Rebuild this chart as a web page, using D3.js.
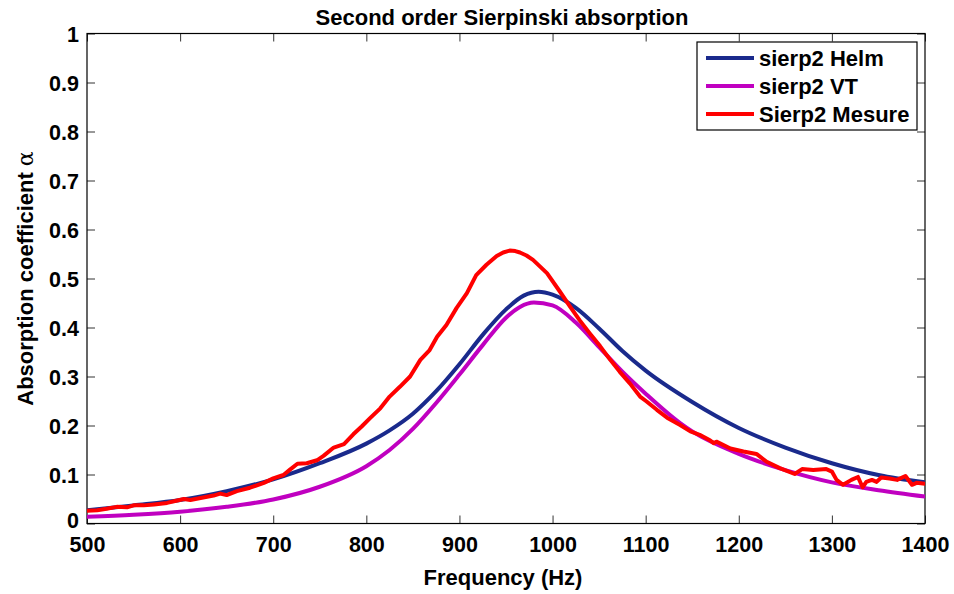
<!DOCTYPE html>
<html>
<head>
<meta charset="utf-8">
<script src="https://cdn.jsdelivr.net/npm/d3@7"></script>
<style>
  html, body { margin: 0; padding: 0; background: #fff; }
  svg { display: block; }
  text { font-family: "Liberation Sans", Arial, Helvetica, sans-serif; font-weight: bold; fill: #000; }
</style>
</head>
<body>
<svg id="chart" width="954" height="594"></svg>
<script>
// ---- Data ----
const title = "Second order Sierpinski absorption";
const xLabel = "Frequency (Hz)";
const yLabel = "Absorption coefficient ";
const xTicks = [500, 600, 700, 800, 900, 1000, 1100, 1200, 1300, 1400];
const yTicks = [0, 0.1, 0.2, 0.3, 0.4, 0.5, 0.6, 0.7, 0.8, 0.9, 1];
const seriesNames = ["sierp2 Helm", "sierp2 VT", "Sierp2 Mesure"];

const helmFreq = [500, 550, 600, 650, 700, 750, 800, 825, 850, 875, 900, 925, 950, 969, 985, 1000, 1025, 1050, 1075, 1100, 1150, 1200, 1250, 1300, 1350, 1400];
const helmVal  = [0.027, 0.037, 0.048, 0.066, 0.090, 0.123, 0.163, 0.190, 0.224, 0.270, 0.325, 0.385, 0.437, 0.465, 0.473, 0.467, 0.440, 0.398, 0.352, 0.312, 0.248, 0.195, 0.155, 0.123, 0.099, 0.084];

const vtFreq = [500, 550, 600, 650, 700, 750, 800, 825, 850, 875, 900, 925, 950, 965, 980, 1000, 1025, 1050, 1075, 1100, 1137, 1150, 1200, 1250, 1300, 1350, 1400];
const vtVal  = [0.014, 0.018, 0.024, 0.034, 0.049, 0.075, 0.117, 0.150, 0.193, 0.246, 0.304, 0.364, 0.420, 0.442, 0.451, 0.445, 0.410, 0.360, 0.310, 0.265, 0.205, 0.188, 0.142, 0.109, 0.084, 0.068, 0.055];

const mesFreq = [500, 511, 521, 532, 543, 550, 561, 572, 586, 597, 604, 611, 622, 636, 643, 650, 661, 675, 690, 700, 711, 718, 726, 736, 747, 754, 765, 776, 786, 795, 804, 815, 825, 836, 847, 858, 868, 876, 886, 897, 908, 918, 929, 940, 947, 954, 960, 965, 972, 979, 994, 1008, 1019, 1029, 1040, 1051, 1062, 1072, 1083, 1094, 1101, 1112, 1123, 1137, 1148, 1158, 1169, 1173, 1176, 1191, 1205, 1219, 1230, 1244, 1260, 1268, 1280, 1294, 1300, 1305, 1312, 1321, 1328, 1333, 1337, 1343, 1348, 1353, 1362, 1370, 1379, 1386, 1391, 1400];
const mesVal  = [0.026, 0.027, 0.030, 0.034, 0.033, 0.037, 0.037, 0.039, 0.042, 0.047, 0.050, 0.048, 0.052, 0.057, 0.061, 0.058, 0.066, 0.073, 0.083, 0.092, 0.099, 0.110, 0.122, 0.123, 0.129, 0.138, 0.155, 0.162, 0.182, 0.198, 0.215, 0.235, 0.259, 0.279, 0.300, 0.334, 0.354, 0.381, 0.405, 0.440, 0.470, 0.507, 0.528, 0.546, 0.553, 0.557, 0.556, 0.553, 0.547, 0.538, 0.511, 0.473, 0.442, 0.415, 0.388, 0.362, 0.334, 0.310, 0.286, 0.259, 0.249, 0.232, 0.216, 0.201, 0.188, 0.181, 0.170, 0.164, 0.167, 0.153, 0.147, 0.142, 0.126, 0.113, 0.101, 0.111, 0.109, 0.111, 0.106, 0.089, 0.079, 0.089, 0.095, 0.074, 0.085, 0.089, 0.085, 0.094, 0.092, 0.089, 0.097, 0.079, 0.083, 0.081];

const colors = ["#1a2a8c", "#c000c0", "#ff0000"];

// ---- Layout ----
const svg = d3.select("#chart");
const L = 87, R = 925, T = 33.5, B = 523.5;
const x = d3.scaleLinear().domain([500, 1400]).range([L, R]);
const y = d3.scaleLinear().domain([0, 1]).range([B, T]);
const fs = 21.5;

svg.append("defs").append("clipPath").attr("id", "clip")
  .append("rect").attr("x", L).attr("y", T).attr("width", R - L).attr("height", B - T);

const tl = 8;
const fmtY = d => d === 0 ? "0" : (d === 1 ? "1" : d3.format(".1f")(d));

const gB = svg.append("g").attr("transform", `translate(0,${B})`)
  .call(d3.axisBottom(x).tickValues(xTicks).tickSize(-tl).tickPadding(13).tickFormat(d3.format("d")));
const gT = svg.append("g").attr("transform", `translate(0,${T})`)
  .call(d3.axisTop(x).tickValues(xTicks).tickSize(-tl).tickFormat(""));
const gL = svg.append("g").attr("transform", `translate(${L},0)`)
  .call(d3.axisLeft(y).tickValues(yTicks).tickSize(-tl).tickPadding(8).tickFormat(fmtY));
const gR = svg.append("g").attr("transform", `translate(${R},0)`)
  .call(d3.axisRight(y).tickValues(yTicks).tickSize(-tl).tickFormat(""));

[gB, gT, gL, gR].forEach(g => {
  g.select(".domain").remove();
  g.selectAll(".tick line").attr("stroke", "#333").attr("stroke-width", 1);
  g.selectAll(".tick text").style("font-size", fs + "px").style("font-family", '"Liberation Sans", Arial, sans-serif').style("font-weight", "bold").attr("fill", "#000");
});
gB.selectAll(".tick text").attr("dy", "0.71em");
gL.selectAll(".tick text").attr("dy", "0.36em");
gL.selectAll(".tick").filter(d => d === 0).select("text").attr("dy", "0.2em");

svg.append("rect").attr("x", L).attr("y", T).attr("width", R - L).attr("height", B - T)
  .attr("fill", "none").attr("stroke", "#000").attr("stroke-width", 1.2);

const series = [
  { f: helmFreq, v: helmVal, c: colors[0], curve: d3.curveMonotoneX },
  { f: vtFreq, v: vtVal, c: colors[1], curve: d3.curveMonotoneX },
  { f: mesFreq, v: mesVal, c: colors[2], curve: d3.curveLinear }
];
const plot = svg.append("g").attr("clip-path", "url(#clip)");
series.forEach(s => {
  const pts = s.f.map((f, i) => [f, s.v[i]]);
  plot.append("path")
    .attr("d", d3.line().x(d => x(d[0])).y(d => y(d[1])).curve(s.curve)(pts))
    .attr("fill", "none").attr("stroke", s.c).attr("stroke-width", 4)
    .attr("stroke-linejoin", "round").attr("stroke-linecap", "round");
});

svg.append("text").attr("x", (L + R) / 2 - 4).attr("y", 25).attr("text-anchor", "middle")
  .style("font-size", "22px").text(title);

svg.append("text").attr("x", (L + R) / 2 - 3).attr("y", 585).attr("text-anchor", "middle")
  .style("font-size", "22px").text(xLabel);

const yl = svg.append("text").attr("transform", `translate(33,${(T + B) / 2}) rotate(-90)`)
  .attr("text-anchor", "middle").style("font-size", "22px");
yl.append("tspan").text(yLabel);
yl.append("tspan").style("font-weight", "normal").style("font-family", '"DejaVu Serif", serif').text("α");

const lg = svg.append("g");
lg.append("rect").attr("x", 697).attr("y", 42).attr("width", 220).attr("height", 88)
  .attr("fill", "#fff").attr("stroke", "#000").attr("stroke-width", 1.2);
seriesNames.forEach((n, i) => {
  const ry = 58 + i * 28;
  lg.append("line").attr("x1", 706).attr("x2", 754).attr("y1", ry).attr("y2", ry)
    .attr("stroke", colors[i]).attr("stroke-width", 4);
  lg.append("text").attr("x", 759).attr("y", ry).attr("dy", "0.36em")
    .style("font-size", "22px").text(n);
});
</script>
</body>
</html>
